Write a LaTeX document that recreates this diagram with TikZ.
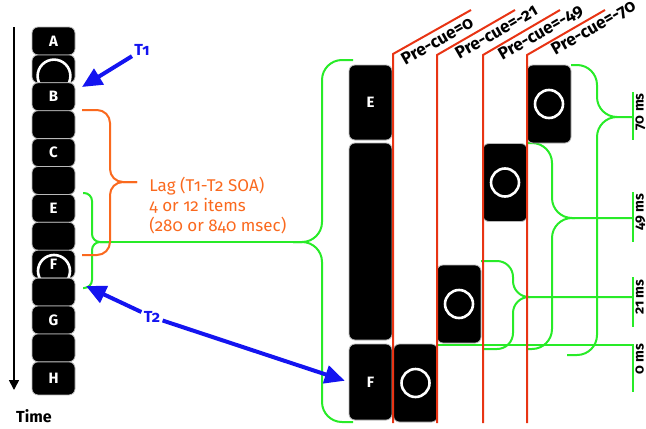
\documentclass[tikz,border=0pt]{standalone}
\usepackage{fontspec}
\setmainfont{Fira Sans}[Numbers=OldStyle]
\usepackage{tikz}
\usetikzlibrary{arrows.meta}

\definecolor{lagorange}{RGB}{250,105,30}
\definecolor{gapgreen}{RGB}{40,235,40}
\definecolor{cuered}{RGB}{232,52,20}
\definecolor{tblue}{RGB}{20,20,240}

\begin{document}
\begin{tikzpicture}[x=0.5pt,y=-0.5pt,
    item/.style={fill=black,draw=gray!55,line width=0.4pt,rounded corners=3pt,
        minimum width=21.5pt,minimum height=13.95pt,inner sep=0pt,
        text=white,font=\bfseries\fontsize{7.5}{9}\selectfont},
    tallbox/.style={item,minimum height=#1},
    cuebox/.style={item,minimum width=22pt,minimum height=39pt},
    ring/.style={draw=white,line width=1.3pt},
    cueline/.style={draw=cuered,line width=1pt},
    gline/.style={draw=gapgreen,line width=1pt},
    obrace/.style={draw=lagorange,line width=1pt,rounded corners=6.5pt},
    tarrow/.style={draw=tblue,line width=2pt,-{Triangle[length=10pt,width=9pt]}},
    tlabel/.style={text=tblue,font=\bfseries\fontsize{8}{9}\selectfont,inner sep=1pt},
    cuelabel/.style={rotate=30,anchor=base west,inner sep=0pt,font=\bfseries\fontsize{8.6}{9}\selectfont},
    mslabel/.style={rotate=90,anchor=north east,inner sep=0pt,font=\bfseries\fontsize{7}{8}\selectfont}]
    \useasboundingbox (0,0) rectangle (646,428);

    % time axis
    \coordinate (tstart) at (14,27);
    \coordinate (tend) at (14,390);
    \draw[line width=0.8pt,-{Triangle[length=5pt,width=5pt]}] (tstart) -- (tend);
    \node[font=\bfseries\fontsize{8}{9}\selectfont] (timelab) at (34,416) {Time};

    % green braces (gap between targets)
    \draw[gline,rounded corners=4pt] (83,193) -| (92,242) -- (110,242);
    \draw[gline,rounded corners=4pt] (83,288) -| (92,242) -- (110,242);
    \draw[gline] (100,242) -- (300,242);
    \draw[gline,rounded corners=10pt] (353,60) -| (322,242) -- (293,242);
    \draw[gline,rounded corners=10pt] (353,422) -| (322,242) -- (293,242);

    \draw[gline,rounded corners=10pt] (571,65) -| (597,117) -- (633,117);
    \draw[gline,rounded corners=10pt] (567,355) -| (597,117) -- (617,117);
    \draw[gline,rounded corners=10pt] (527,143) -| (552,218) -- (633,218);
    \draw[gline,rounded corners=10pt] (527,349) -| (552,218) -- (575,218);
    \draw[gline,rounded corners=8pt] (481,261) -| (513,297) -- (633,297);
    \draw[gline,rounded corners=8pt] (483,349) -| (513,297) -- (530,297);
    \draw[gline] (437,345) -- (633,345);

    % scale ticks
    \draw[gline] (633,92) -- (633,140);
    \draw[gline] (633,192) -- (633,242);
    \draw[gline] (633,277) -- (633,327);
    \draw[gline] (633,344) -- (633,392);
    \node[mslabel] (ms70) at (635,93) {70 ms};
    \node[mslabel] (ms49) at (635,193) {49 ms};
    \node[mslabel] (ms21) at (635,279) {21 ms};
    \node[mslabel] (ms0) at (635,343) {0 ms};

    % RSVP stream
    \node[item] (itemA) at (53.5,40.95) {A};
    \node[item] (itemA2) at (53.5,68.85) {};
    \draw[ring] (54,76) circle (8.2pt);
    \node[item] (itemB) at (53.5,96.75) {B};
    \node[item] (itemB2) at (53.5,124.65) {};
    \node[item] (itemC) at (53.5,152.55) {C};
    \node[item] (itemC2) at (53.5,180.45) {};
    \node[item] (itemE) at (53.5,208.35) {E};
    \node[item] (itemE2) at (53.5,236.25) {};
    \node[item] (itemF) at (53.5,264.15) {F};
    \draw[ring] (54,271) circle (8pt);
    \node[item] (itemF2) at (53.5,292.05) {};
    \node[item] (itemG) at (53.5,319.95) {G};
    \node[item] (itemG2) at (53.5,347.85) {};
    \node[item,minimum height=16.5pt] (itemH) at (53.5,378.4) {H};

    % lag brace
    \draw[obrace] (82,110) -| (110,182) -- (137,182);
    \draw[obrace] (82,255) -| (110,182) -- (137,182);
    \node[anchor=north west,inner sep=0pt,align=left,text=lagorange,
        font=\fontsize{8.5}{10}\selectfont] (lagnote) at (149,177)
        {Lag (T1-T2 SOA)\\4 or 12 items\\(280 or 840 msec)};

    % expanded view
    \node[tallbox=37.5pt] (boxE) at (370.5,102.5) {E};
    \node[tallbox=98.5pt] (boxMid) at (370.5,241.5) {};
    \node[tallbox=38pt] (boxF) at (370.5,382) {F};

    \node[cuebox] (cue0) at (415.5,383) {};
    \node[cuebox] (cue21) at (459,304) {};
    \node[cuebox] (cue49) at (505,182.5) {};
    \node[cuebox] (cue70) at (549,104) {};
    \draw[ring] (cue0.center) circle (7pt);
    \draw[ring] (cue21.center) circle (7pt);
    \draw[ring] (cue49.center) circle (7pt);
    \draw[ring] (cue70.center) circle (7pt);

    % pre-cue onsets
    \draw[cueline] (393,423) -- (393,54) -- (471,10);
    \draw[cueline] (437,423) -- (437,55) -- (515,10);
    \draw[cueline] (483,423) -- (483,55) -- (560,10);
    \draw[cueline] (527,423) -- (527,55) -- (605,10);
    \node[cuelabel] (pre0) at (405,66) {Pre-cue=0};
    \node[cuelabel] (pre21) at (459,60) {Pre-cue=-21};
    \node[cuelabel] (pre49) at (502,61) {Pre-cue=-49};
    \node[cuelabel] (pre70) at (555,56) {Pre-cue=-70};

    % targets
    \node[tlabel] (labT1) at (142,50) {T1};
    \coordinate (t1tip) at (82,87);
    \draw[tarrow] (labT1) -- (t1tip);
    \node[tlabel] (labT2) at (152,317) {T2};
    \coordinate (t2tip) at (86,286);
    \draw[tarrow] (labT2) -- (t2tip);
    \draw[tarrow,shorten >=2pt] (labT2) -- (boxF.west);
\end{tikzpicture}
\end{document}
